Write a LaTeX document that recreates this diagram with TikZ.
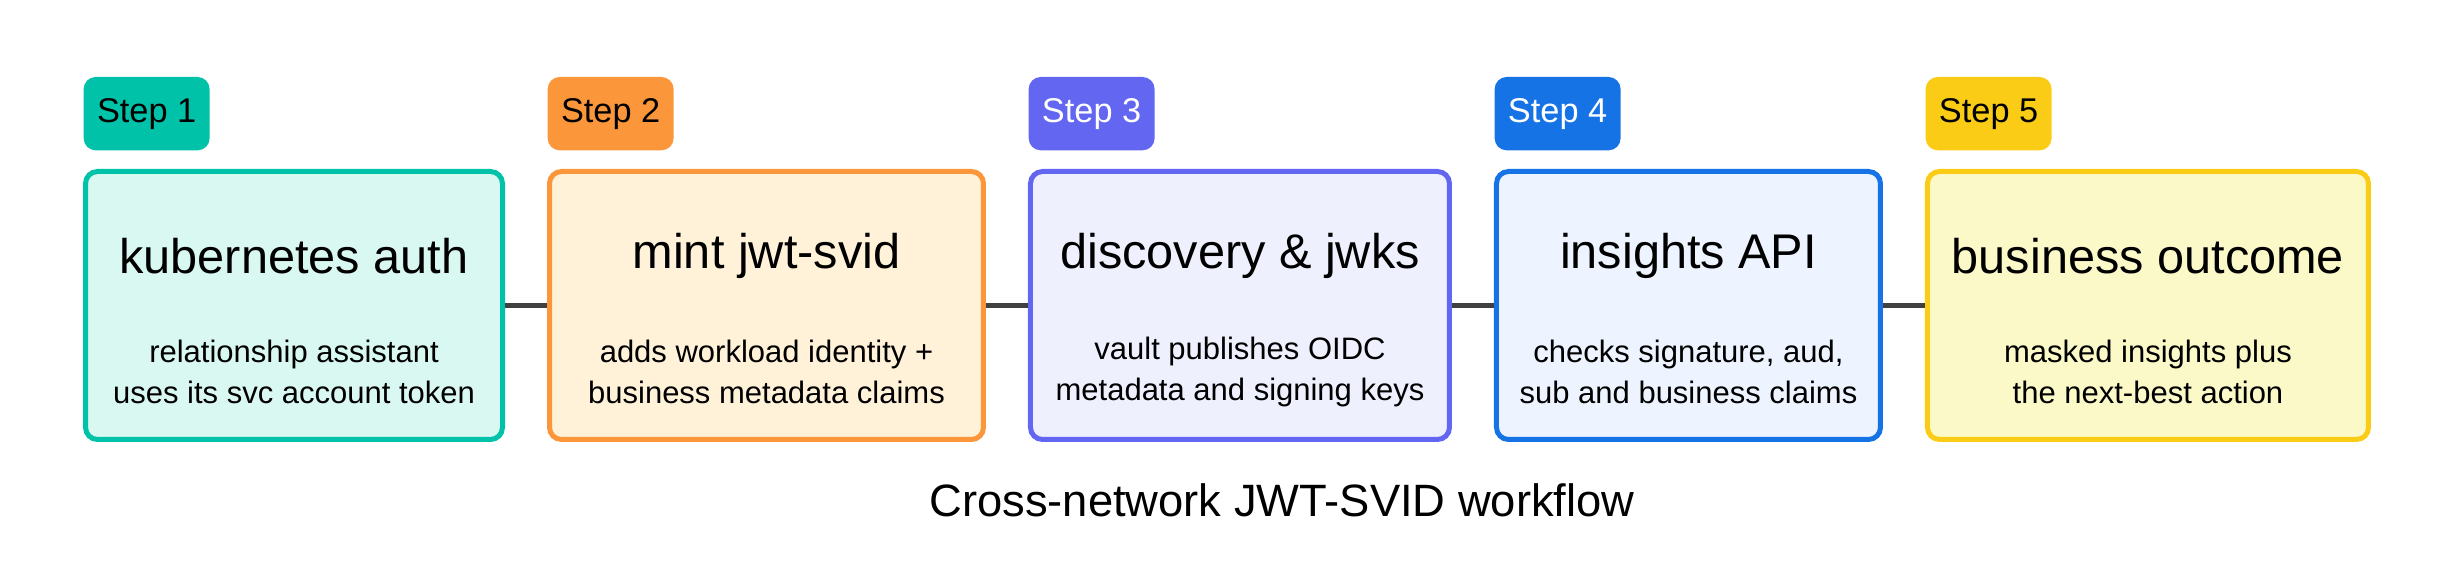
\documentclass[tikz,border=0pt]{standalone}
\usepackage{fontspec}
\setmainfont{Liberation Sans}
\usetikzlibrary{positioning}

\definecolor{tealc}{HTML}{00C2A8}\definecolor{tealf}{HTML}{D9F8F1}
\definecolor{orangec}{HTML}{FB963A}\definecolor{orangef}{HTML}{FFF2D9}
\definecolor{purplec}{HTML}{6366F1}\definecolor{purplef}{HTML}{EFF0FE}
\definecolor{bluec}{HTML}{1673E6}\definecolor{bluef}{HTML}{EDF4FF}
\definecolor{yellowc}{HTML}{FACC15}\definecolor{yellowf}{HTML}{FBF9C8}
\definecolor{linkc}{HTML}{404040}

\begin{document}
\begin{tikzpicture}[
  x=0.3pt, y=-0.3pt,
  node distance=12.6pt,
  stage/.style={draw=#1c, fill=#1f, line width=1.5pt, rounded corners=3.6pt,
                minimum height=80.4pt, inner sep=0pt},
  badge/.style={fill=#1c, rounded corners=3.6pt, font=\fontsize{10.3}{12}\selectfont,
                minimum height=22pt, inner xsep=4pt, anchor=south west},
  title/.style={font=\fontsize{14.6}{17}\selectfont},
  sub/.style={align=center, font=\fontsize{9.3}{12.3}\selectfont},
  link/.style={draw=linkc, line width=1.5pt}
]
\useasboundingbox (0,0) rectangle (2454,581);

\node[stage=teal, minimum width=125.1pt, anchor=north west] (auth) at (83,169) {};
\node[stage=orange, minimum width=130.2pt, right=of auth] (mint) {};
\node[stage=purple, minimum width=125.7pt, right=of mint] (disc) {};
\node[stage=blue, minimum width=115.2pt, right=of disc] (api) {};
\node[stage=yellow, minimum width=132.3pt, right=of api] (outcome) {};

\node[badge=teal] (s1) at ([yshift=5.4pt]auth.north west) {Step 1};
\node[badge=orange] (s2) at ([yshift=5.4pt]mint.north west) {Step 2};
\node[badge=purple, text=white] (s3) at ([yshift=5.4pt]disc.north west) {Step 3};
\node[badge=blue, text=white] (s4) at ([yshift=5.4pt]api.north west) {Step 4};
\node[badge=yellow] (s5) at ([yshift=5.4pt]outcome.north west) {Step 5};

\node[title] (t1) at ([yshift=-26pt]auth.north) {kubernetes auth};
\node[title] (t2) at ([yshift=-26pt]mint.north) {mint jwt-svid};
\node[title] (t3) at ([yshift=-26pt]disc.north) {discovery \& jwks};
\node[title] (t4) at ([yshift=-26pt]api.north) {insights API};
\node[title] (t5) at ([yshift=-26pt]outcome.north) {business outcome};

\node[sub] (d1) at ([yshift=-61pt]auth.north) {relationship assistant\\uses its svc account token};
\node[sub] (d2) at ([yshift=-61pt]mint.north) {adds workload identity +\\business metadata claims};
\node[sub] (d3) at ([yshift=-61pt]disc.north) {vault publishes OIDC\\metadata and signing keys};
\node[sub] (d4) at ([yshift=-61pt]api.north) {checks signature, aud,\\sub and business claims};
\node[sub] (d5) at ([yshift=-61pt]outcome.north) {masked insights plus\\the next-best action};

\draw[link] (auth) -- (mint);
\draw[link] (mint) -- (disc);
\draw[link] (disc) -- (api);
\draw[link] (api) -- (outcome);

\node[font=\fontsize{13.6}{16}\selectfont] (caption) at (1282,500) {Cross-network JWT-SVID workflow};
\end{tikzpicture}
\end{document}
